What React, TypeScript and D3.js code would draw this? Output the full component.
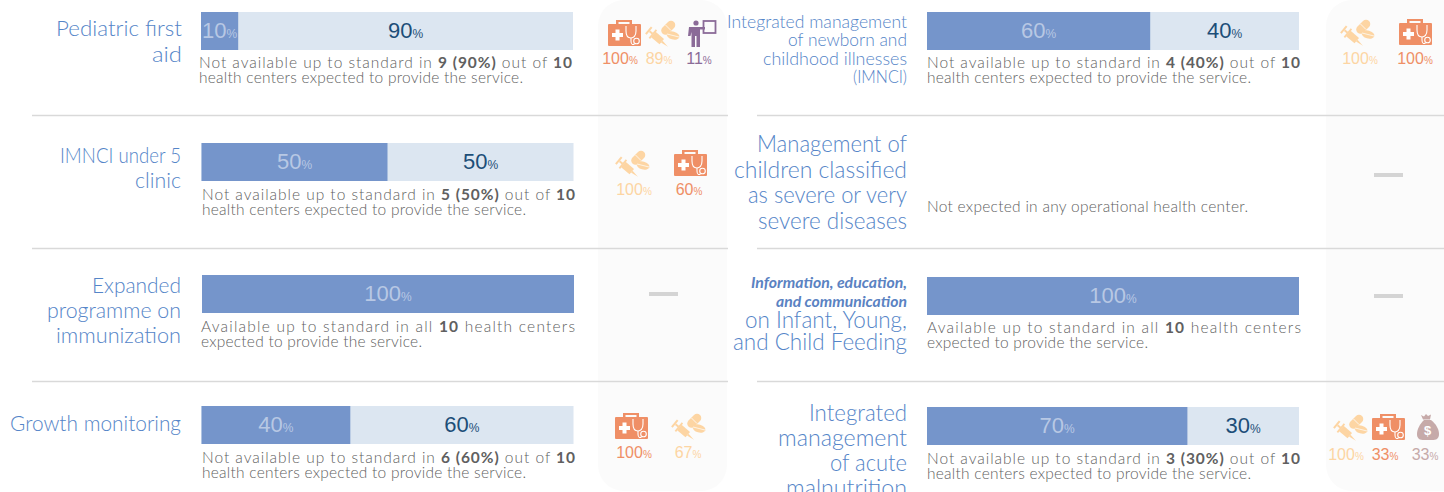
import React from "react";
import * as d3 from "d3";

const programmes = [
  "Pediatric first aid", "IMNCI under 5 clinic", "Expanded programme on immunization", "Growth monitoring",
  "Integrated management of newborn and childhood illnesses (IMNCI)", "Management of children classified as severe or very severe diseases",
  "Information, education, and communication on Infant, Young, and Child Feeding", "Integrated management of acute malnutrition",
];
const availableValues: (number | null)[] = [10, 50, 100, 40, 60, null, 100, 70];
const centersNotAvailable: (number | null)[] = [9, 5, null, 6, 4, null, null, 3];
const totalCenters = 10;
const causeKinds: string[][] = [["kit", "drug", "staff"], ["drug", "kit"], [], ["kit", "drug"], ["drug", "kit"], [], [], ["drug", "kit", "money"]];
const causeValues: number[][] = [[100, 89, 11], [100, 60], [], [100, 67], [100, 100], [], [], [100, 33, 33]];

const labelLines: string[][] = [
  ["Pediatric first", "aid"], ["IMNCI under 5", "clinic"], ["Expanded", "programme on", "immunization"], ["Growth monitoring"],
  ["Integrated management", "of newborn and", "childhood illnesses", "(IMNCI)"], ["Management of", "children classified", "as severe or very", "severe diseases"],
  ["on Infant, Young,", "and Child Feeding"], ["Integrated", "management", "of acute", "malnutrition"],
];
const emphasisLines: string[][] = [[], [], [], [], [], [], ["Information, education,", "and communication"], []];

// layout
const labelWidths: number[][] = [
  [126, 30], [121, 46], [89, 134, 125], [171],
  [180, 119, 144, 54], [150, 173, 159, 149],
  [162, 174], [98, 129, 77, 121],
];
const emphasisWidths: number[][] = [[], [], [], [], [], [], [156, 131], []];
const barXs = [201, 201.5, 202, 201.5, 927, 927, 927, 927];
const barYs = [12, 143, 275, 406, 12, 0, 277, 407];
const labelRight = [182, 181, 181, 181, 907, 907, 907, 907];
const labelBase = [36, 163, 293, 431, 28, 152, 328, 421];
const labelSize = [22, 21, 22, 22, 18, 22.5, 22.5, 22.5];
const labelStep = [26, 25, 25, 25, 18.4, 25.5, 22, 25];
const noteX = [199, 202, 201, 202, 927, 927, 927, 927];
const noteY = [67.5, 199.5, 331.5, 462.5, 67.5, 212, 332.5, 463.5];
const iconCx = [[624, 662, 702], [632, 690], [], [631, 688], [1357, 1415], [], [], [1350, 1388, 1428]];
const textCx = [[620, 659, 699], [634, 689], [], [634, 688], [1360, 1415], [], [], [1346, 1385, 1425]];
const iconY = [34, 164, 0, 427, 33, 0, 0, 428];
const valueY = [64, 195, 0, 458, 64, 0, 0, 460];
const dashes = [[649, 292], [1374, 173], [1374, 294]];
const rules = [[32, 728], [757, 1444]];
const ruleY = [115, 248, 381];
const panels = [[598, 129], [1326, 140]];

const BLUE = "#7595cb", PALE = "#dce6f1", DARK = "#1c4e78", SOFT = "#b8c8e4", LABEL = "#5585c8", NOTE = "#5f5f5f";
const causeColor: Record<string, string> = { kit: "#ef8f66", drug: "#fdd5a3", staff: "#8b6b98", money: "#c6aaa9" };
const SANS = "Lato, 'Noto Sans', sans-serif";
const ARIAL = "'Liberation Sans', Arial, sans-serif";

const x = d3.scaleLinear().domain([0, 100]).range([0, 372]);

function Icon({ kind, cx, cy, color }: { kind: string; cx: number; cy: number; color: string }) {
  const t = `translate(${cx},${cy})`;
  if (kind === "kit") return (
    <g transform={t}>
      <path d="M-8-14H8v4H5.500v-2h-11v2H-8z" fill={color} />
      <rect x={-16} y={-10} width={33} height={22} rx={1} fill={color} />
      <path d="M-12-1h3.500v-3.500h4V-1H-1v4h-3.500v3.500h-4V3H-12z" fill="#fff" />
      <path d="M2-8v5c0 5 2.500 7 5 7s5-2 5-7v-5" fill="none" stroke="#fff" strokeWidth={1.100} />
      <path d="M7 4v3c0 4 2 4 3.500 3" fill="none" stroke="#fff" strokeWidth={1.100} />
      <circle cx={12.500} cy={7} r={2.800} fill="none" stroke="#fff" strokeWidth={1.100} />
    </g>
  );
  if (kind === "drug") return (
    <g transform={t}>
      <g transform="translate(-14,-4) rotate(40)">
        <rect x={0} y={-4.500} width={2} height={9} fill={color} />
        <rect x={2} y={-1} width={4} height={2} fill={color} />
        <rect x={5.500} y={-5.500} width={1.800} height={11} fill={color} />
        <rect x={7} y={-3.500} width={11} height={7} fill={color} />
        <path d="M18-1.200L26 0 18 1.200z" fill={color} />
      </g>
      <line x1={3.500} y1={-3.500} x2={9} y2={-9} stroke={color} strokeWidth={8.500} strokeLinecap="round" />
      <line x1={3.500} y1={-9} x2={9} y2={-3.500} stroke="#fff" strokeWidth={1} opacity={0.800} />
      <ellipse cx={11} cy={1.500} rx={6.500} ry={4} transform="rotate(15 11 1.500)" fill={color} />
      <line x1={5} y1={0} x2={17} y2={3} stroke="#fff" strokeWidth={0.900} opacity={0.800} />
    </g>
  );
  if (kind === "staff") return (
    <g transform={t}>
      <circle cx={-6} cy={-11} r={2.600} fill={color} />
      <path d="M-13 -7H-2L3 -7v2.500H-2V13H-5.500V2H-7V13H-10.500V-2L-11.500 2H-14z" fill={color} />
      <rect x={1.500} y={-13} width={12} height={12} fill="none" stroke={color} strokeWidth={1.800} />
    </g>
  );
  return (
    <g transform={t}>
      <path d="M-7-13l3 1.500L-2-14l2 2 3-1.500-1 5H-5z" fill={color} />
      <path d="M-4-8H3C8-4 11 1 11 6c0 5-3 6-7 6h-8c-4 0-7-1-7-6 0-5 3-10 7-14z" fill={color} />
      <text x={-0.500} y={7} textAnchor="middle" fontFamily={ARIAL} fontWeight={700} fontSize={13} fill="#fff">$</text>
    </g>
  );
}

function Pct({ cx, y, v, fill, size, small }: { cx: number; y: number; v: number; fill: string; size: number; small: number }) {
  return (
    <text x={cx} y={y} textAnchor="middle" fontFamily={ARIAL} fontSize={size} fill={fill}>
      {v}<tspan fontSize={small}>%</tspan>
    </text>
  );
}

function Note({ i }: { i: number }) {
  const v = availableValues[i];
  const n = centersNotAvailable[i];
  const nx = noteX[i], ny = noteY[i];
  const base = { x: nx, fontFamily: SANS, fontSize: 15.5, fill: NOTE, fontWeight: 300 };
  const b = { fontWeight: 700, fill: "#606060" };
  if (v === null) return <text {...base} y={ny} textLength={321} lengthAdjust="spacing">Not expected in any operational health center.</text>;
  if (v === 100) return (
    <g>
      <text {...base} y={ny} textLength={374} lengthAdjust="spacing">Available up to standard in all <tspan {...b}>{totalCenters}</tspan> health centers</text>
      <text {...base} y={ny + 15.5} textLength={221} lengthAdjust="spacing">expected to provide the service.</text>
    </g>
  );
  return (
    <g>
      <text {...base} y={ny} textLength={373} lengthAdjust="spacing">Not available up to standard in <tspan {...b}>{n} ({100 - v}%)</tspan> out of <tspan {...b}>{totalCenters}</tspan></text>
      <text {...base} y={ny + 15.5} textLength={324} lengthAdjust="spacing">health centers expected to provide the service.</text>
    </g>
  );
}

export default function App() {
  return (
    <svg width={1444} height={492} viewBox="0 0 1444 492" style={{ position: "fixed", left: 0, top: 0, display: "block", background: "#fff" }}>
      {panels.map(([px, pw], k) => <rect key={k} x={px} y={0} width={pw} height={491} rx={26} fill="#fbfbfb" />)}
      {rules.map(([a, b], k) => ruleY.map(y => <line key={`${k}-${y}`} x1={a} x2={b} y1={y + 0.5} y2={y + 0.5} stroke="#d9d9d9" strokeWidth={1.5} />))}
      {dashes.map(([dx, dy], k) => <rect key={k} x={dx} y={dy} width={29} height={4} fill="#d4d4d4" />)}
      {programmes.map((name, i) => {
        const v = availableValues[i];
        const bx = barXs[i], by = barYs[i];
        const em = emphasisLines[i];
        return (
          <g key={name}>
            {em.map((l, k) => (
              <text key={l} x={labelRight[i]} y={288 + k * 19} textAnchor="end" fontFamily={SANS} fontStyle="italic" fontWeight={700} fontSize={15} textLength={emphasisWidths[i][k]} lengthAdjust="spacingAndGlyphs" fill="#5a82c2">{l}</text>
            ))}
            {labelLines[i].map((l, k) => (
              <text key={l} x={labelRight[i]} y={labelBase[i] + k * labelStep[i]} textAnchor="end" fontFamily={SANS} fontWeight={300} fontSize={labelSize[i]} textLength={labelWidths[i][k]} lengthAdjust="spacingAndGlyphs" fill={LABEL}>{l}</text>
            ))}
            {v !== null && (
              <g>
                <rect x={bx} y={by} width={x(100)} height={38} fill={PALE} />
                <rect x={bx} y={by} width={x(v)} height={38} fill={BLUE} />
                <Pct cx={bx + x(v) / 2} y={by + 26} v={v} fill={SOFT} size={22} small={12} />
                {v < 100 && <Pct cx={bx + x(v) + x(100 - v) / 2} y={by + 26} v={100 - v} fill={DARK} size={22} small={12} />}
              </g>
            )}
            <Note i={i} />
            {causeKinds[i].map((kind, k) => (
              <g key={kind}>
                <Icon kind={kind} cx={iconCx[i][k]} cy={iconY[i]} color={causeColor[kind]} />
                <Pct cx={textCx[i][k]} y={valueY[i]} v={causeValues[i][k]} fill={causeColor[kind]} size={16} small={10} />
              </g>
            ))}
          </g>
        );
      })}
    </svg>
  );
}
